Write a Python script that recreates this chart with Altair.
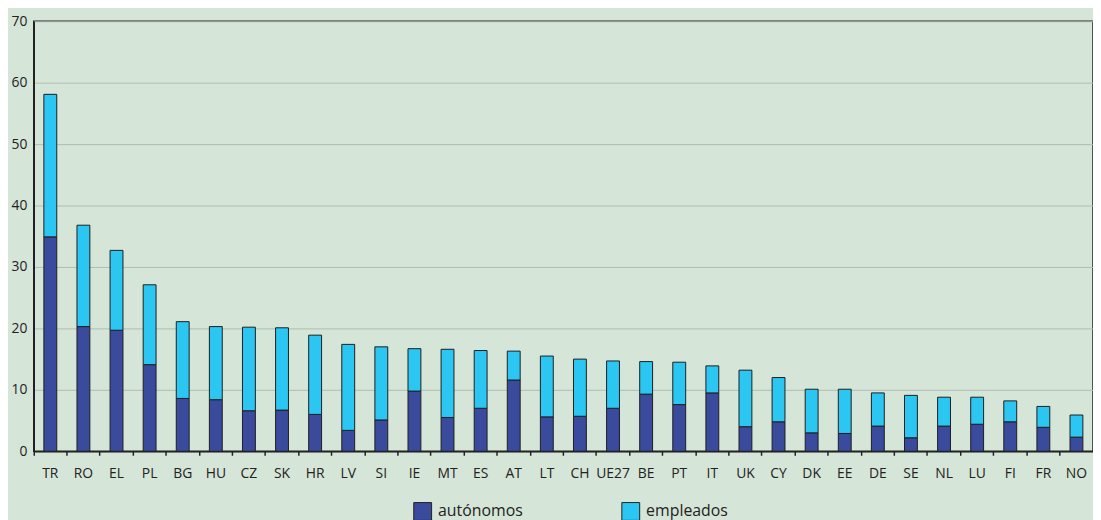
import altair as alt
import pandas as pd

countries = ["TR", "RO", "EL", "PL", "BG", "HU", "CZ", "SK", "HR", "LV", "SI", "IE",
             "MT", "ES", "AT", "LT", "CH", "UE27", "BE", "PT", "IT", "UK", "CY", "DK",
             "EE", "DE", "SE", "NL", "LU", "FI", "FR", "NO"]
autonomos = [34.9, 20.3, 19.7, 14.1, 8.6, 8.4, 6.6, 6.7, 6.0, 3.4, 5.1, 9.8,
             5.5, 7.0, 11.6, 5.6, 5.7, 7.0, 9.3, 7.6, 9.5, 4.0, 4.8, 3.0,
             2.9, 4.1, 2.2, 4.1, 4.4, 4.8, 3.9, 2.3]
empleados = [23.2, 16.5, 13.0, 13.0, 12.5, 11.9, 13.6, 13.4, 12.9, 14.0, 11.9, 6.9,
             11.1, 9.4, 4.7, 9.9, 9.3, 7.7, 5.3, 6.9, 4.4, 9.2, 7.2, 7.1,
             7.2, 5.4, 6.9, 4.7, 4.4, 3.4, 3.4, 3.6]
series = ["autónomos", "empleados"]
colors = ["#3a4a9c", "#2bc6f2"]

rows = []
for c, a, e in zip(countries, autonomos, empleados):
    rows.append({"pais": c, "tipo": series[0], "valor": a, "orden": 0})
    rows.append({"pais": c, "tipo": series[1], "valor": e, "orden": 1})
df = pd.DataFrame(rows)

FONT = "Open Sans"

chart = alt.Chart(df).mark_bar(size=13, stroke="#1e1e1e", strokeWidth=1).encode(
    x=alt.X("pais:N", sort=countries,
            scale=alt.Scale(paddingInner=0, paddingOuter=0),
            axis=alt.Axis(title=None, labelAngle=0, bandPosition=0,
                          tickSize=4, tickColor="#222222", tickWidth=1.5,
                          domainColor="#222222", domainWidth=1.5,
                          labelFont=FONT, labelFontSize=14, labelColor="#222222",
                          labelPadding=11, grid=False)),
    y=alt.Y("valor:Q", stack="zero",
            scale=alt.Scale(domain=[0, 70], nice=False),
            axis=alt.Axis(title=None, values=list(range(0, 71, 10)), ticks=False,
                          domainColor="#222222", domainWidth=1.5,
                          labelFont=FONT, labelFontSize=14, labelColor="#222222",
                          labelPadding=7, grid=True, gridColor="#b3bab5", gridWidth=1)),
    color=alt.Color("tipo:N", scale=alt.Scale(domain=series, range=colors),
                    legend=alt.Legend(title=None, orient="none", legendX=383, legendY=485,
                                      direction="horizontal", symbolType="square",
                                      symbolSize=324, symbolStrokeColor="#222222",
                                      symbolStrokeWidth=1, symbolOpacity=1,
                                      labelFont=FONT, labelFontSize=16, labelOffset=6,
                                      labelColor="#222222", columnPadding=97,
                                      symbolOffset=0)),
    order=alt.Order("orden:Q"),
).properties(
    width=1069, height=434,
    autosize=alt.AutoSizeParams(type="none"),
    padding={"left": 26, "top": 11, "right": 0, "bottom": 67},
).configure(
    background="#d5e5d8",
).configure_view(
    stroke="#222222", strokeWidth=1.5, fill="#d5e5d8",
)

chart.save("out.html", embed_options={"renderer": "svg", "actions": False})
